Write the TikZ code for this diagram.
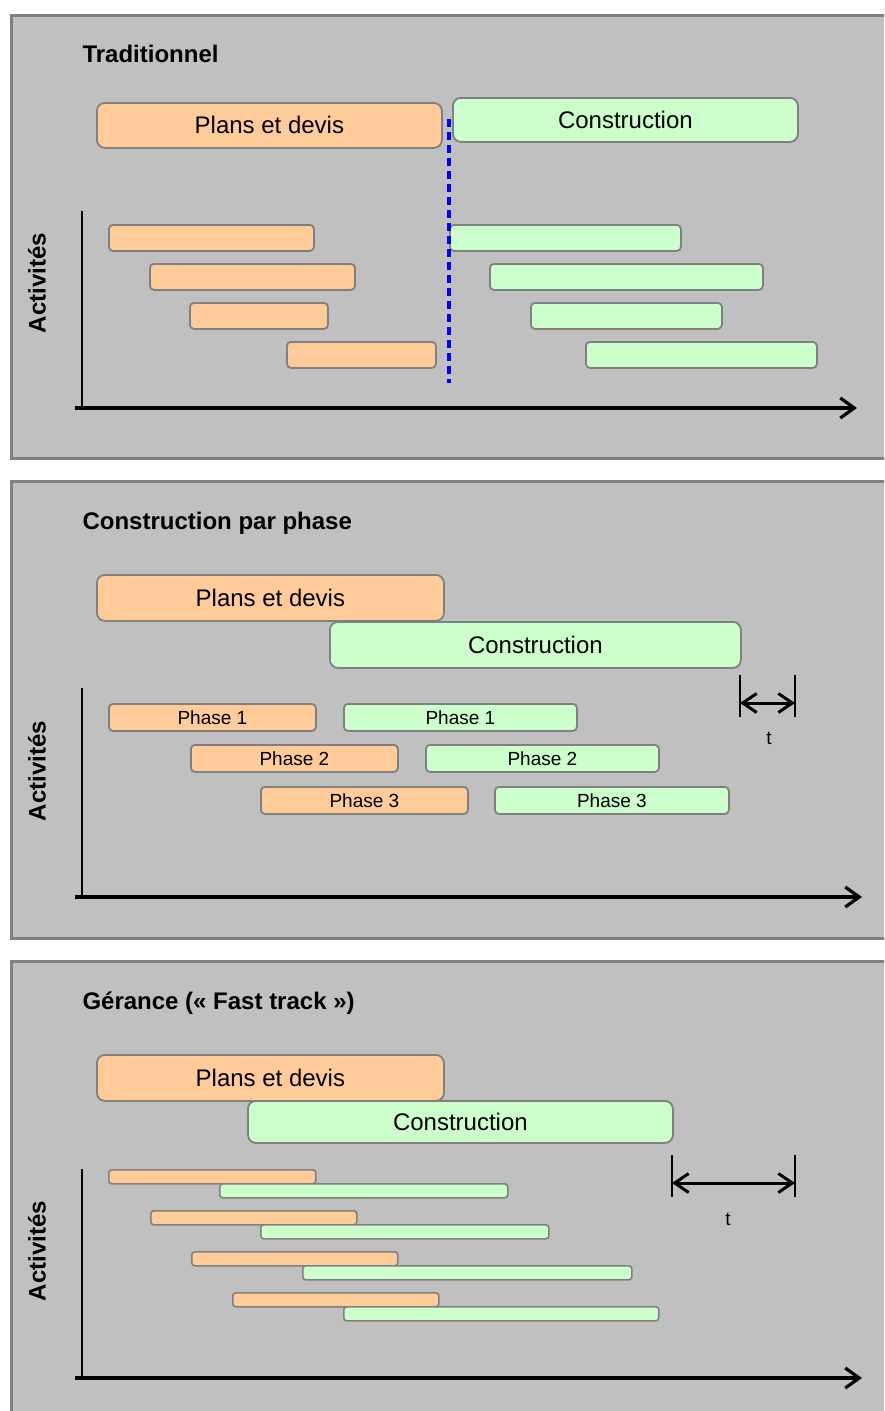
\documentclass[tikz,border=0pt]{standalone}
\usepackage{fontspec}
\setmainfont{Liberation Sans}
\usetikzlibrary{arrows.meta}
\definecolor{fond}{HTML}{C0C0C0}
\definecolor{cadre}{HTML}{808080}
\definecolor{plan}{HTML}{FFCC99}
\definecolor{chantier}{HTML}{CCFFCC}

\begin{document}
\begin{tikzpicture}[x=1pt,y=-1pt,
  panneau/.style={draw=cadre,line width=3pt,fill=fond},
  titre/.style={anchor=base west,font=\bfseries\fontsize{24}{28}\selectfont},
  axelabel/.style={rotate=90,font=\bfseries\fontsize{24}{28}\selectfont},
  grande/.style={draw=cadre,line width=1.8pt,rounded corners=8pt,anchor=north west,inner sep=0pt,font=\fontsize{24}{28}\selectfont},
  barre/.style={draw=cadre,line width=1.8pt,rounded corners=4pt,anchor=north west,inner sep=0pt,font=\fontsize{19}{22}\selectfont},
  fine/.style={draw=cadre,line width=1.6pt,rounded corners=3pt,anchor=north west,inner sep=0pt},
  orange/.style={fill=plan},
  vert/.style={fill=chantier},
  axe/.style={line width=3.2pt,-{Straight Barb[length=14pt,width=20pt]}},
  duree/.style={line width=3pt,{Straight Barb[length=14pt,width=19pt]}-{Straight Barb[length=14pt,width=19pt]}}]
\clip (0,0) rectangle (884,1411);
%Traditionnel
\draw[panneau] (11.5,15) rectangle (900,458);
\node[titre] (titre1) at (79,62) {Traditionnel};
\node[grande,orange,minimum width=345pt,minimum height=45pt] (plans1) at (96,102) {Plans et devis};
\node[grande,vert,minimum width=345pt,minimum height=44pt] (constr1) at (452,97) {Construction};
\node[axelabel] (act1) at (37,283) {Activités};
\node[barre,orange,minimum width=205pt,minimum height=26pt] (a1) at (108,224) {};
\node[barre,orange,minimum width=205pt,minimum height=26pt] (a2) at (149,263) {};
\node[barre,orange,minimum width=138pt,minimum height=26pt] (a3) at (189,302) {};
\node[barre,orange,minimum width=149pt,minimum height=26pt] (a4) at (286,341) {};
\node[barre,vert,minimum width=231pt,minimum height=26pt] (b1) at (449,224) {};
\node[barre,vert,minimum width=273pt,minimum height=26pt] (b2) at (489,263) {};
\node[barre,vert,minimum width=191pt,minimum height=26pt] (b3) at (530,302) {};
\node[barre,vert,minimum width=231pt,minimum height=26pt] (b4) at (585,341) {};
\coordinate (fin1) at (449,119);
\coordinate (bas1) at (449,383);
\draw[blue,line width=3.5pt,dash pattern=on 8pt off 5pt] (fin1) -- (bas1);
\coordinate (o1) at (82,408);
\coordinate (y1) at (82,211);
\coordinate (x1) at (857,408);
\draw[line width=2.2pt] (y1) -- (o1);
\draw[axe] (75,408) -- (x1);
%Construction par phase
\draw[panneau] (11.5,481) rectangle (900,938.5);
\node[titre] (titre2) at (79,529) {Construction par phase};
\node[grande,orange,minimum width=347pt,minimum height=46pt] (plans2) at (96,574) {Plans et devis};
\node[grande,vert,minimum width=411pt,minimum height=46pt] (constr2) at (329,621) {Construction};
\node[axelabel] (act2) at (37,771) {Activités};
\node[barre,orange,minimum width=207pt,minimum height=27pt,text depth=-3pt] (c1) at (108,703) {Phase 1};
\node[barre,orange,minimum width=207pt,minimum height=27pt,text depth=-3pt] (c2) at (190,744) {Phase 2};
\node[barre,orange,minimum width=207pt,minimum height=27pt,text depth=-3pt] (c3) at (260,786) {Phase 3};
\node[barre,vert,minimum width=233pt,minimum height=27pt] (d1) at (343,703) {Phase 1};
\node[barre,vert,minimum width=233pt,minimum height=27pt] (d2) at (425,744) {Phase 2};
\node[barre,vert,minimum width=234pt,minimum height=27pt] (d3) at (494,786) {Phase 3};
\coordinate (o2) at (82,897);
\coordinate (y2) at (82,688);
\coordinate (x2) at (862,897);
\draw[line width=2.2pt] (y2) -- (o2);
\draw[axe] (75,897) -- (x2);
\coordinate (t2a) at (740,703);
\coordinate (t2b) at (795,703);
\draw[line width=1.8pt] (740,675) -- (740,717);
\draw[line width=1.8pt] (795,675) -- (795,717);
\draw[duree] (t2a) -- (t2b);
\node[font=\fontsize{19}{22}\selectfont] (t2) at (769,738) {t};
%Gerance
\draw[panneau] (11.5,961) rectangle (900,1430);
\node[titre] (titre3) at (79,1009) {Gérance (« Fast track »)};
\node[grande,orange,minimum width=347pt,minimum height=46pt] (plans3) at (96,1054) {Plans et devis};
\node[grande,vert,minimum width=425pt,minimum height=42pt] (constr3) at (247,1100) {Construction};
\node[axelabel] (act3) at (37,1251) {Activités};
\node[fine,orange,minimum width=207pt,minimum height=14pt] (e1) at (108,1169) {};
\node[fine,vert,minimum width=288pt,minimum height=14pt] (f1) at (219,1183) {};
\node[fine,orange,minimum width=206pt,minimum height=14pt] (e2) at (150,1210) {};
\node[fine,vert,minimum width=288pt,minimum height=14pt] (f2) at (260,1224) {};
\node[fine,orange,minimum width=206pt,minimum height=14pt] (e3) at (191,1251) {};
\node[fine,vert,minimum width=329pt,minimum height=14pt] (f3) at (302,1265) {};
\node[fine,orange,minimum width=206pt,minimum height=14pt] (e4) at (232,1292) {};
\node[fine,vert,minimum width=315pt,minimum height=14pt] (f4) at (343,1306) {};
\coordinate (o3) at (82,1378);
\coordinate (y3) at (82,1169);
\coordinate (x3) at (862,1378);
\draw[line width=2.2pt] (y3) -- (o3);
\draw[axe] (75,1378) -- (x3);
\coordinate (t3a) at (672,1183);
\coordinate (t3b) at (795,1183);
\draw[line width=1.8pt] (672,1155) -- (672,1197);
\draw[line width=1.8pt] (795,1155) -- (795,1197);
\draw[duree] (t3a) -- (t3b);
\node[font=\fontsize{19}{22}\selectfont] (t3) at (728,1219) {t};
\end{tikzpicture}
\end{document}
